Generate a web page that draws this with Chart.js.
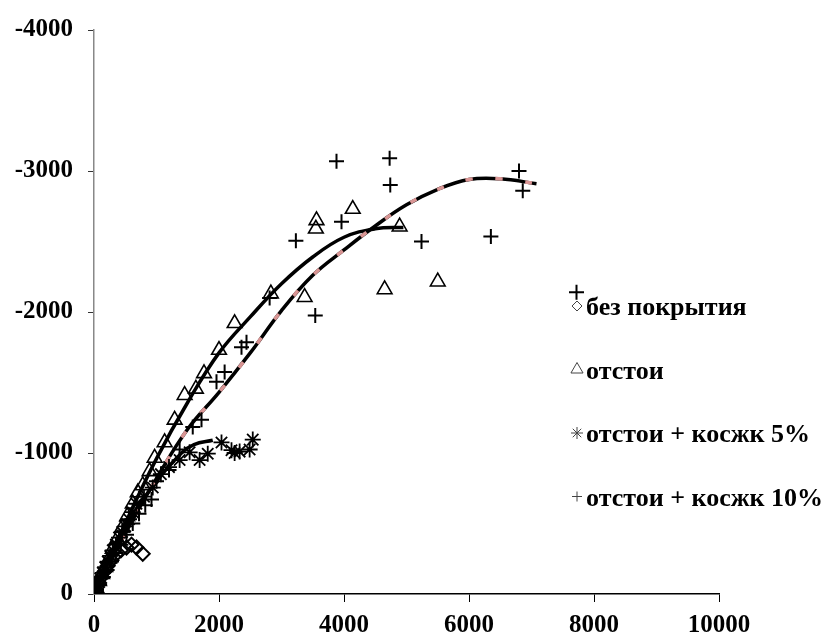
<!DOCTYPE html>
<html>
<head>
<meta charset="utf-8">
<script src="https://cdn.jsdelivr.net/npm/chart.js@4/dist/chart.umd.min.js"></script>
<style>
html, body { margin: 0; padding: 0; background: #fff; }
#wrap { width: 826px; height: 640px; }
</style>
</head>
<body>
<div id="wrap"><canvas id="chart" width="826" height="640"></canvas></div>
<script>
// --- data ---------------------------------------------------------------
var seriesNames = ["без покрытия", "отстои", "отстои + косжк 5%", "отстои + косжк 10%"];

// без покрытия (diamonds)
var bareX = [0, 20, 50, 80, 120, 170, 220, 280, 350, 430, 520, 600, 680, 780];
var bareY = [0, -20, -50, -80, -120, -160, -200, -240, -280, -310, -330, -350, -330, -285];

// отстои (triangles)
var sludgeX = [0, 40, 80, 130, 180, 240, 300, 370, 450, 530, 620, 700, 780, 890, 970, 1130, 1290, 1450, 1630, 1760, 2000, 2250, 2830, 3370, 3550, 3560, 4140, 4650, 4890, 5500];
var sludgeY = [0, -40, -90, -140, -190, -250, -320, -390, -470, -550, -640, -720, -770, -870, -965, -1075, -1235, -1410, -1455, -1565, -1730, -1920, -2130, -2105, -2590, -2650, -2730, -2160, -2605, -2215];

// отстои + косжк 5% (asterisks)
var mix5X = [0, 30, 60, 100, 140, 180, 220, 260, 300, 350, 400, 450, 500, 560, 620, 680, 800, 940, 1070, 1200, 1370, 1530, 1690, 1820, 2040, 2200, 2250, 2330, 2490, 2540];
var mix5Y = [0, -30, -70, -110, -150, -190, -230, -270, -310, -350, -400, -440, -480, -530, -580, -640, -690, -755, -850, -900, -950, -1005, -950, -995, -1075, -1020, -1000, -1010, -1025, -1095];

// отстои + косжк 10% (crosses)
var mix10X = [0, 40, 90, 150, 210, 280, 350, 430, 520, 620, 720, 820, 920, 1000, 1200, 1370, 1580, 1720, 1960, 2090, 2360, 2440, 2810, 3230, 3540, 3880, 3960, 4730, 4740, 5240, 6350, 6800, 6860, 7720];
var mix10Y = [0, -30, -70, -120, -170, -230, -290, -350, -420, -500, -570, -630, -670, -800, -880, -1025, -1185, -1235, -1505, -1575, -1750, -1785, -2100, -2505, -1975, -3070, -2640, -3090, -2900, -2500, -2535, -3000, -2860, -2140];

// trend lines
var trendSludgeX = [0, 500, 1000, 1500, 2000, 2500, 3000, 3500, 4000, 4500, 4950];
var trendSludgeY = [0, -500, -960, -1360, -1710, -1965, -2200, -2390, -2530, -2590, -2600];
var trend5X = [0, 500, 1000, 1400, 1600, 1900];
var trend5Y = [0, -470, -800, -1000, -1060, -1090];
var trend10X = [0, 500, 1000, 1500, 2000, 2500, 3000, 3500, 4000, 4500, 5000, 5500, 6000, 6500, 7080];
var trend10Y = [0, -430, -820, -1170, -1430, -1710, -2010, -2260, -2440, -2610, -2760, -2870, -2940, -2945, -2910];

var xTicks = [0, 2000, 4000, 6000, 8000, 10000];
var yTicks = [-4000, -3000, -2000, -1000, 0];

// ----------------------------------------------------------------------
function toPoints(xs, ys) {
    return xs.map(function (x, i) { return {x: x, y: ys[i]}; });
}

function markers(label, xs, ys, style, radius, width) {
    return {
        label: label,
        data: toPoints(xs, ys),
        showLine: false,
        pointStyle: style,
        pointRadius: radius,
        pointBorderWidth: width,
        pointBorderColor: "#000",
        pointBackgroundColor: "rgba(0,0,0,0)",
        order: 1
    };
}

function trend(xs, ys, color, width, dash, order) {
    return {
        label: "trend",
        data: toPoints(xs, ys),
        showLine: true,
        borderColor: color,
        borderWidth: width,
        borderDash: dash,
        tension: 0.4,
        pointRadius: 0,
        fill: false,
        order: order
    };
}

var legendStyles = ["rectRot", "triangle", "star", "cross"];
var legendSizes = [5, 7, 6, 5];

var sideLegend = {
    id: "sideLegend",
    afterDraw: function (chart) {
        var ctx = chart.ctx;
        ctx.save();
        seriesNames.forEach(function (name, i) {
            var y = 306 + i * 63.5;
            ctx.strokeStyle = "#444";
            ctx.fillStyle = "rgba(0,0,0,0)";
            ctx.lineWidth = 1;
            Chart.helpers.drawPoint(ctx, {pointStyle: legendStyles[i], radius: legendSizes[i], borderWidth: 1, rotation: 0}, 577, y);
            ctx.fillStyle = "#000";
            ctx.font = "bold 26px 'Liberation Serif'";
            ctx.textBaseline = "alphabetic";
            ctx.fillText(name, 586, y + 9);
        });
        ctx.restore();
    }
};

function plain(v) { return String(v); }

new Chart(document.getElementById("chart"), {
    type: "scatter",
    data: {
        datasets: [
            markers(seriesNames[0], bareX, bareY, "rectRot", 7, 2),
            markers(seriesNames[1], sludgeX, sludgeY, "triangle", 8.5, 1.6),
            markers(seriesNames[2], mix5X, mix5Y, "star", 8, 1.8),
            markers(seriesNames[3], mix10X, mix10Y, "cross", 7.5, 2),
            trend(trendSludgeX, trendSludgeY, "#000", 3.5, [], 3),
            trend(trend5X, trend5Y, "#000", 3.5, [], 3),
            trend(trend10X, trend10Y, "#000", 3.5, [], 3),
            trend(trend10X, trend10Y, "#d99594", 3.5, [7, 23], 2)
        ]
    },
    options: {
        responsive: false,
        animation: false,
        devicePixelRatio: 1,
        layout: {padding: {top: 28, right: 107, left: 0, bottom: 0}},
        plugins: {legend: {display: false}, tooltip: {enabled: false}},
        scales: {
            x: {
                type: "linear",
                min: 0, max: 10000,
                afterBuildTicks: function (s) { s.ticks = xTicks.map(function (v) { return {value: v}; }); },
                afterFit: function (s) { s.height = 46; },
                grid: {drawOnChartArea: false, drawTicks: true, tickLength: 8, color: "#000", lineWidth: 1},
                border: {color: "#000", width: 1.5},
                ticks: {padding: 9, color: "#000", callback: plain, font: {family: "'Liberation Serif'", size: 25, weight: "bold"}, maxRotation: 0}
            },
            y: {
                type: "linear",
                min: -4000, max: 0,
                reverse: true,
                afterBuildTicks: function (s) { s.ticks = yTicks.map(function (v) { return {value: v}; }); },
                afterFit: function (s) { s.width = 94; },
                grid: {drawOnChartArea: false, drawTicks: true, tickLength: 6, color: "#333", lineWidth: 1},
                border: {color: "#888", width: 1.5},
                ticks: {padding: 15, color: "#000", callback: plain, font: {family: "'Liberation Serif'", size: 25, weight: "bold"}}
            }
        }
    },
    plugins: [sideLegend]
});
</script>
</body>
</html>
